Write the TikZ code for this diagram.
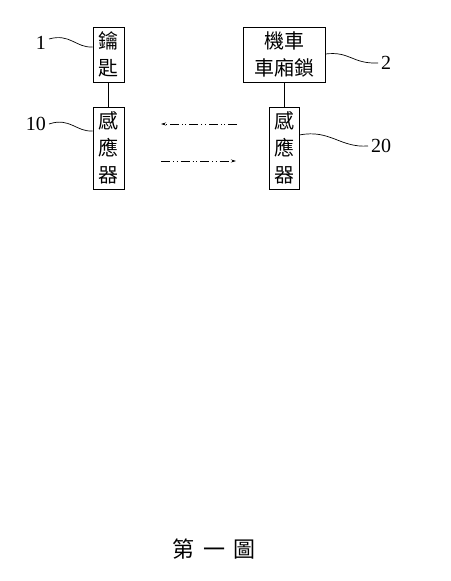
\documentclass[tikz,border=0pt]{standalone}
\usepackage{fontspec}
\newfontfamily\cjk{Noto Sans CJK TC}
\setmainfont{Liberation Serif}
\usetikzlibrary{arrows.meta}
\begin{document}
\begin{tikzpicture}[x=1pt,y=-1pt,
  blk/.style={draw,line width=0.9pt,inner sep=0pt,align=center,font=\cjk\fontsize{20}{27}\selectfont},
  lead/.style={line width=0.7pt},
  num/.style={inner sep=0pt,font=\fontsize{20}{20}\selectfont},
  sig/.style={line width=0.7pt,dash pattern=on 9pt off 3pt on 1pt off 2.5pt on 1pt off 3pt,-{Stealth[length=5pt,width=3pt]}}]
\useasboundingbox (0,0) rectangle (450,581);
\node[blk,minimum width=31pt,minimum height=55pt] (key) at (108.5,54.5) {鑰\\匙};
\node[blk,minimum width=31pt,minimum height=82pt] (s1) at (108.5,148) {感\\應\\器};
\node[blk,minimum width=82pt,minimum height=55pt] (lock) at (284,54.5) {機車\\車廂鎖};
\node[blk,minimum width=30pt,minimum height=82pt] (s2) at (284,148) {感\\應\\器};
\draw[line width=0.9pt] (key.south) -- (s1.north);
\draw[line width=0.9pt] (lock.south) -- (s2.north);
% labels
\node[num,anchor=east] (n1) at (46,43) {1};
\node[num,anchor=east] (n10) at (46,124) {10};
\node[num,anchor=west] (n2) at (381,63) {2};
\node[num,anchor=west] (n20) at (371,146) {20};
\draw[lead] (n1.east) ++(3,-4) coordinate (c1) .. controls (70,33) and (76,48) .. (key.west |- 0,47);
\draw[lead] (n10.east) ++(3,0) coordinate (c10) .. controls (70,117) and (76,132) .. (s1.west |- 0,131);
\draw[lead] (lock.east |- 0,54) .. controls (350,51) and (352,64) .. ([xshift=-3pt]n2.west);
\draw[lead] (s2.east |- 0,135) .. controls (330,129) and (340,148) .. ([xshift=-3pt]n20.west);
% signals
\coordinate (t1) at (237,124);
\coordinate (t2) at (161,124);
\coordinate (b1) at (161,161);
\coordinate (b2) at (236,161);
\draw[sig] (t1) -- (t2);
\draw[sig] (b1) -- (b2);
% caption
\node[inner sep=0pt,font=\cjk\fontsize{22}{22}\selectfont] (cap) at (214,549) {第\hspace{9pt}一\hspace{9pt}圖};
\end{tikzpicture}
\end{document}
